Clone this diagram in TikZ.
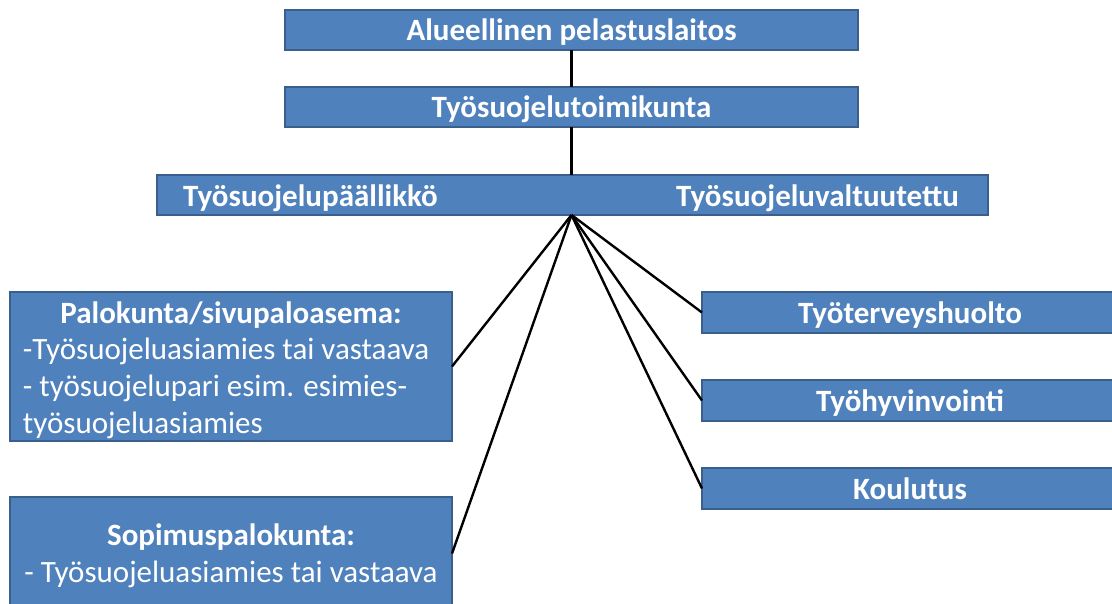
\documentclass[tikz,border=0pt]{standalone}
\usepackage{fontspec}
\setmainfont{Carlito}
\usepackage{tikz}
\definecolor{boxfill}{HTML}{4F81BD}
\definecolor{boxedge}{HTML}{3A5F8D}
\tikzset{
  orgbox/.style={draw=boxedge, fill=boxfill, line width=1.4pt, text=white,
    inner sep=0pt, outer sep=0pt, anchor=north west,
    font=\fontsize{31}{36.8}\selectfont},
  oneline/.style={text height=26pt, text depth=5pt, font=\fontsize{31}{36.8}\selectfont\bfseries},
  boxlabel/.style={text=white, inner sep=0pt, font=\fontsize{31}{36.8}\selectfont\bfseries},
  link/.style={draw=black, line width=2.4pt},
}
\begin{document}
\begin{tikzpicture}[x=1pt,y=-1pt]
  \clip (0,0) rectangle (1112,603);
  \fill[white] (0,0) rectangle (1112,603);
  % top of the chart
  \node[orgbox, oneline, minimum width=573, minimum height=40] (region) at (285,10) {Alueellinen pelastuslaitos};
  \node[orgbox, oneline, minimum width=573, minimum height=40] (committee) at (285,87) {Työsuojelutoimikunta};
  \node[orgbox, minimum width=831, minimum height=40] (chiefs) at (157,175) {};
  \node[boxlabel, anchor=west] (chief) at (183,198) {Työsuojelupäällikkö};
  \node[boxlabel, anchor=west] (delegate) at (676,198) {Työsuojeluvaltuutettu};
  \coordinate (hub) at (committee.south |- chiefs.south);
  % left side
  \node[orgbox, minimum width=442, minimum height=149, text width=416, align=flush left, text height=29pt] (station) at (10,292)
    {\hfill\textbf{Palokunta/sivupaloasema:}\hfill\mbox{}\\
     -Työsuojeluasiamies tai vastaava\\
     - työsuojelupari esim. esimies-\\
     työsuojeluasiamies};
  \node[orgbox, minimum width=442, minimum height=113, align=center, text depth=0pt] (contract) at (10,497)
    {\textbf{Sopimuspalokunta:}\\- Työsuojeluasiamies tai vastaava};
  % right side
  \node[orgbox, oneline, minimum width=416, minimum height=41] (health) at (702,292) {Työterveyshuolto};
  \node[orgbox, oneline, minimum width=416, minimum height=41] (wellbeing) at (702,380) {Työhyvinvointi};
  \node[orgbox, oneline, minimum width=416, minimum height=41] (training) at (702,468) {Koulutus};
  % connectors
  \draw[link] (region.south) -- (committee.north);
  \draw[link] (committee.south) -- (hub |- chiefs.north);
  \draw[link] (hub) -- (station.east);
  \draw[link] (hub) -- (contract.east);
  \draw[link] (hub) -- (health.west);
  \draw[link] (hub) -- (wellbeing.west);
  \draw[link] (hub) -- (training.west);
\end{tikzpicture}
\end{document}
